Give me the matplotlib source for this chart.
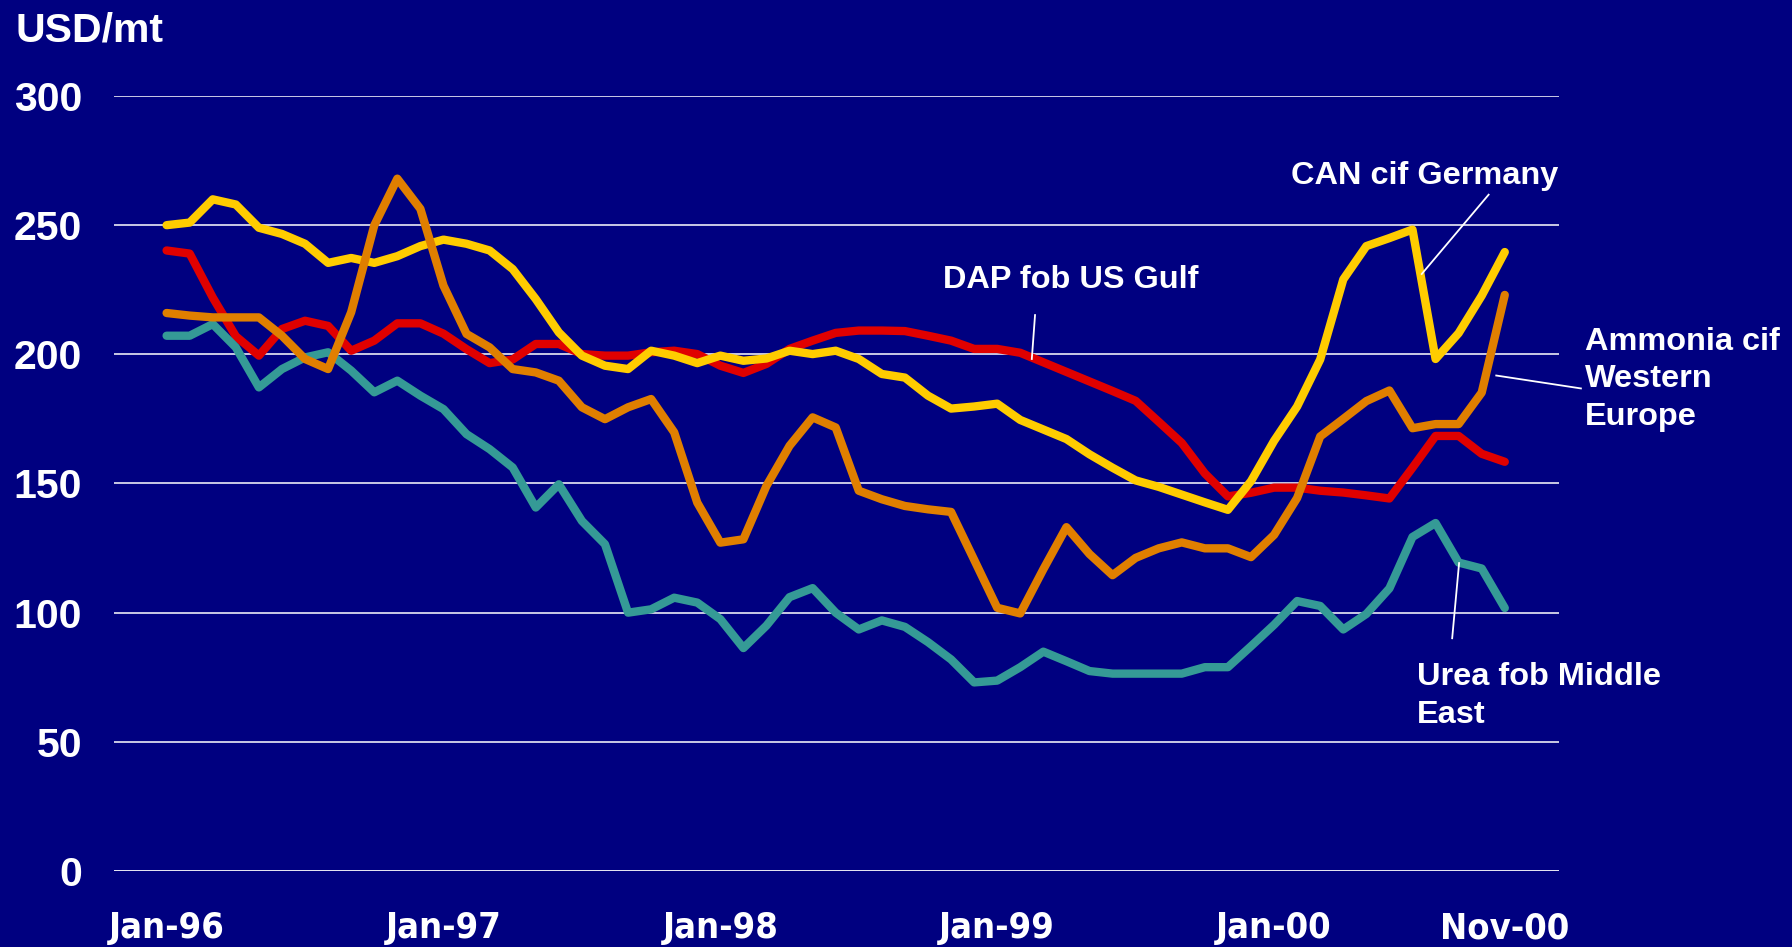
import numpy as np
import matplotlib
matplotlib.use("Agg")
import matplotlib.pyplot as plt

# monthly prices, Jan-96 .. Nov-00 (USD/mt)
can_germany = [250, 251, 260, 258, 249, 246.6, 242.8, 235.4, 237.3, 235.4, 238, 241.9,
               244.4, 242.8, 240.2, 233, 221.4, 208.5, 199.5, 195.6, 194.3, 201.4, 199.5, 196.6,
               199.5, 197.5, 198.4, 201.4, 200.1, 201.4, 198.2, 192.4, 191, 184, 179, 179.8,
               180.9, 174.6, 170.9, 167.2, 161.3, 156.1, 151.2, 148.7, 145.7, 142.7, 139.8, 150.9,
               166.5, 179.8, 198, 229, 241.9, 245, 248.3, 198.2, 208.2, 222.7, 239.6]
dap_gulf = [240.2, 239, 222, 207, 199.5, 209.8, 213, 211, 201.4, 205.3, 212, 212,
            208, 202, 196.6, 198, 204, 204, 200.1, 199.5, 199.5, 200.8, 201.4, 200.1,
            195.6, 192.8, 196.3, 202.1, 205.3, 208.3, 209.2, 209.2, 209, 207.2, 205.3, 202.1,
            202.1, 200.6, 196.9, 193.2, 189.5, 185.8, 182, 173.9, 165.7, 153.9, 145, 146.4,
            148.4, 148.4, 147.2, 146.5, 145.4, 144.2, 156.1, 168.4, 168.4, 161.5, 158.4]
ammonia_we = [216, 215, 214.3, 214.3, 214.3, 207.2, 198.2, 194.3, 216.3, 249.9, 268, 256.3,
              226.6, 207.9, 202.7, 194.3, 193, 189.8, 179.5, 174.9, 179.5, 182.7, 169.8, 142.6,
              127.1, 128.4, 149.1, 164.6, 175.6, 171.7, 147.2, 143.9, 141.3, 140, 139, 120.5,
              101.9, 99.7, 116.8, 133.1, 122.7, 114.5, 121.2, 124.9, 127.2, 124.9, 124.9, 121.5,
              130.1, 144.4, 168.2, 175, 181.9, 186, 171.4, 173, 173, 185.2, 223]
urea_me = [207.2, 207.2, 211.7, 202.7, 187.2, 194.3, 198.8, 200.8, 193.7, 185.3, 189.8, 184,
           178.8, 169.1, 163.3, 156.2, 140.7, 149.7, 135.5, 126.5, 100, 101.3, 105.8, 103.9,
           97.5, 86.3, 95, 106, 109.5, 100, 93.5, 97, 94.5, 88.6, 81.9, 73,
           73.7, 78.9, 84.9, 81.2, 77.4, 76.4, 76.4, 76.4, 76.4, 78.9, 78.9, 87,
           95.3, 104.5, 102.6, 93.5, 99.5, 109.4, 129.3, 134.7, 119.4, 117.1, 101.8]

tick_pos = [0, 12, 24, 36, 48, 58]
tick_labels = ['Jan-96', 'Jan-97', 'Jan-98', 'Jan-99', 'Jan-00', 'Nov-00']

navy = '#000080'
plt.rcParams['font.family'] = ['Liberation Sans', 'DejaVu Sans']
plt.rcParams['font.weight'] = 'bold'

fig = plt.figure(figsize=(17.92, 9.47), dpi=100, facecolor=navy)
ax = fig.add_axes([114/1792, 1-871/947, (1559-114)/1792, (871-96)/947])
ax.set_facecolor(navy)

x = np.arange(len(can_germany))

for y in [50, 100, 150, 200, 250, 300]:
    ax.axhline(y, color='white', lw=1.1, zorder=1)
ax.axhline(0, color='white', lw=2.0, zorder=1)

lw = 6
ax.plot(x, dap_gulf, color='#E00000', lw=lw, solid_capstyle='round', zorder=3)
ax.plot(x, urea_me, color='#359A96', lw=lw, solid_capstyle='round', zorder=3)
ax.plot(x, can_germany, color='#FFCC00', lw=lw, solid_capstyle='round', zorder=4)
ax.plot(x, ammonia_we, color='#E07F00', lw=lw, solid_capstyle='round', zorder=5)

ax.set_xlim(-2.28, 60.35)
ax.set_ylim(0, 300)
for s in ax.spines.values():
    s.set_visible(False)

ax.set_yticks([0, 50, 100, 150, 200, 250, 300])
ax.tick_params(axis='y', length=0, pad=23, labelsize=29.5, labelcolor='white')
ax.set_xticks(tick_pos)
ax.set_xticklabels(tick_labels, family='DejaVu Sans', fontstretch='condensed',
                   fontsize=26, fontweight='bold', color='white')
ax.tick_params(axis='x', length=0, pad=29)

fig.text(16/1792, 1-42/947, 'USD/mt', color='white', fontsize=29.5,
         fontweight='bold', va='baseline', ha='left')

lab = dict(color='white', fontsize=23.4, fontweight='bold', ha='left')

ax.text(33.65, 225.7, 'DAP fob US Gulf', va='baseline', **lab)
ax.plot([37.64, 37.5], [215.2, 198.2], color='white', lw=1.3, zorder=6)

ax.text(48.73, 266.1, 'CAN cif Germany', va='baseline', **lab)
ax.plot([57.3, 54.4], [261.8, 231.1], color='white', lw=1.3, zorder=6)

ax.text(61.49, 210.7, 'Ammonia cif\nWestern\nEurope', va='top', linespacing=1.33,
        clip_on=False, **lab)
ax.plot([61.3, 57.63], [186.8, 191.8], color='white', lw=1.3, zorder=6, clip_on=False)

ax.text(54.2, 80.9, 'Urea fob Middle\nEast', va='top', linespacing=1.33, **lab)
ax.plot([56.02, 55.72], [119.2, 90.1], color='white', lw=1.3, zorder=6)

fig.savefig('out.png', dpi=100, facecolor=navy)
